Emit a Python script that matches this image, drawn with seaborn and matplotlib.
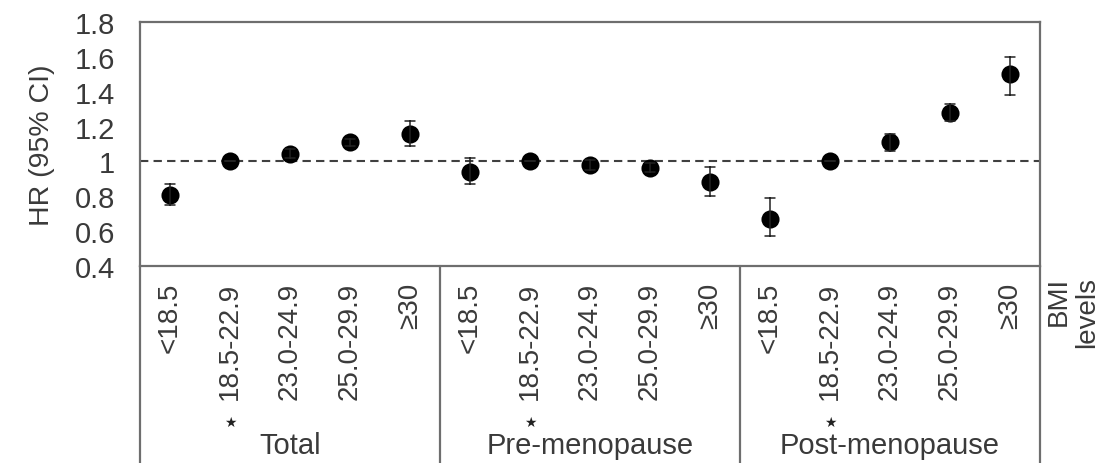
import matplotlib
matplotlib.use("Agg")
import matplotlib.pyplot as plt
import matplotlib.transforms as mtransforms
import numpy as np
import pandas as pd
import seaborn as sns

# ---- data ----
groups = ["Total", "Pre-menopause", "Post-menopause"]
bmi_levels = ["<18.5", "18.5-22.9", "23.0-24.9", "25.0-29.9", "\u226530"]
hr_total = [0.81, 1.00, 1.04, 1.11, 1.16]
lo_total = [0.75, 1.00, 1.02, 1.09, 1.09]
hi_total = [0.87, 1.00, 1.07, 1.13, 1.23]
hr_pre = [0.94, 1.00, 0.98, 0.96, 0.88]
lo_pre = [0.87, 1.00, 0.95, 0.94, 0.80]
hi_pre = [1.02, 1.00, 1.01, 0.99, 0.97]
hr_post = [0.67, 1.00, 1.11, 1.28, 1.50]
lo_post = [0.57, 1.00, 1.06, 1.23, 1.38]
hi_post = [0.79, 1.00, 1.16, 1.33, 1.60]
reference_level = "18.5-22.9"
y_ticks = [0.4, 0.6, 0.8, 1.0, 1.2, 1.4, 1.6, 1.8]
y_tick_labels = ["0.4", "0.6", "0.8", "1", "1.2", "1.4", "1.6", "1.8"]

# long table: each category contributes lower, estimate, upper
series = {"Total": (lo_total, hr_total, hi_total),
          "Pre-menopause": (lo_pre, hr_pre, hi_pre),
          "Post-menopause": (lo_post, hr_post, hi_post)}
rows = []
order = []
for g in groups:
    lo, hr, hi = series[g]
    for i, lev in enumerate(bmi_levels):
        key = f"{g}|{lev}"
        order.append(key)
        for v in (lo[i], hr[i], hi[i]):
            rows.append({"key": key, "value": v})
df = pd.DataFrame(rows)

sns.set_theme(style="white")
plt.rcParams["font.family"] = ["Liberation Sans", "DejaVu Sans"]

text_col = "#3a3a3a"
line_col = "#6e6e6e"

fig = plt.figure(figsize=(11.06, 4.64), dpi=100)
W, H = 1106, 464
left_px, right_px, top_px, bot_px = 140, 1040, 23, 267
ax = fig.add_axes([left_px / W, (H - bot_px) / H,
                   (right_px - left_px) / W, (bot_px - top_px) / H])

ax.axhline(1.0, color="#404040", lw=1.5, dashes=(4, 2.5), zorder=1)

sns.pointplot(data=df, x="key", y="value", order=order,
              estimator="median", errorbar=lambda v: (v.min(), v.max()),
              linestyle="none", marker="o", markersize=11, color="black",
              capsize=0.17, err_kws={"linewidth": 1.1, "color": "#222222"},
              ax=ax, zorder=3)

ax.set_xlim(-0.5, len(order) - 0.5)
ax.set_ylim(0.4, 1.8)
ax.set_yticks(y_ticks)
ax.set_yticklabels(y_tick_labels, fontsize=21, color=text_col)
ax.set_xticks(range(len(order)))
ax.set_xticklabels([k.split("|")[1] for k in order], rotation=90,
                   fontsize=20, color=text_col, va="top", ha="center")
ax.tick_params(axis="both", length=0)
ax.tick_params(axis="y", pad=18)
ax.tick_params(axis="x", pad=11)
ax.set_xlabel("")
ax.set_ylabel("HR (95% CI)", fontsize=20.5, color=text_col, labelpad=14)
for s in ax.spines.values():
    s.set_color(line_col)
    s.set_linewidth(1.6)
ax.grid(False)

# table lines below the axes
trans = mtransforms.blended_transform_factory(ax.transData, ax.transAxes)
y_bottom = -(H - bot_px) / (bot_px - top_px)
for xv in [-0.5, 4.5, 9.5, 14.5]:
    ax.plot([xv, xv], [0, y_bottom], transform=trans, color=line_col,
            lw=1.6, clip_on=False)

# group labels and reference star
for gi, g in enumerate(groups):
    center = gi * 5 + 2
    ax.text(center, -0.735, g, transform=trans, ha="center", va="center",
            fontsize=21, color=text_col)
    ref_idx = gi * 5 + bmi_levels.index(reference_level)
    ax.text(ref_idx, -0.64, "\u2605", transform=trans, ha="center",
            va="center", fontsize=10, color="#222222")

ax.text(14.5 + 0.1, -0.04, "BMI\nlevels", transform=trans, rotation=90,
        ha="left", va="top", fontsize=20, color=text_col,
        multialignment="right", linespacing=1.1)

fig.savefig("out.png", dpi=100)
